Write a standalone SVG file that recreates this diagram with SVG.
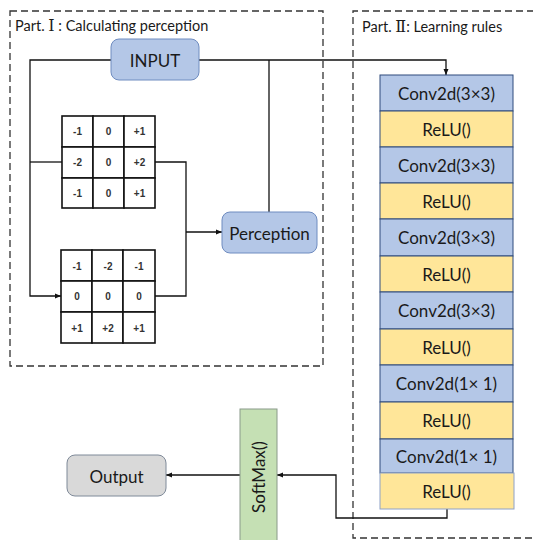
<svg xmlns="http://www.w3.org/2000/svg" width="533" height="540" viewBox="0 0 533 540">
<style>
.dash{fill:none;stroke:#333;stroke-width:1.3;stroke-dasharray:7,4}
.t{font-family:Lato,"Open Sans",sans-serif;fill:#1a1a1a}
.title{font-size:14.5px}
.rn{font-family:"DejaVu Serif","Liberation Serif",serif;font-size:16px}
.lbl{font-size:17px;text-anchor:middle;dominant-baseline:central}
.blue{fill:#b4c7e7;stroke:#6f8cc0;stroke-width:1}
.conv{fill:#b4c7e7;stroke:#2f4b7c;stroke-width:1}
.relu{fill:#ffe699;stroke:#2f4b7c;stroke-width:1}
.cell{fill:#fff;stroke:#111;stroke-width:1.6}
.num{font-family:"Liberation Sans",Arial,sans-serif;font-size:10px;font-weight:bold;fill:#333;text-anchor:middle;dominant-baseline:central}
.ln{fill:none;stroke:#111;stroke-width:1.3}
</style>
<defs>
<marker id="ah" markerWidth="6" markerHeight="6" refX="6" refY="3" orient="auto" markerUnits="userSpaceOnUse"><path d="M0,0.5 L6,3 L0,5.5 Z" fill="#111"/></marker>
</defs>
<rect x="0" y="0" width="533" height="540" fill="#fff"/>

<g id="part1">
<rect class="dash" x="10" y="11" width="313" height="355"/>
<text class="t title" x="15" y="31">Part. <tspan class="rn">Ⅰ</tspan> : Calculating perception</text>
</g>
<g id="part2">
<path class="dash" d="M545,11 H353 V538 H545"/>
<text class="t title" x="362" y="32">Part. <tspan class="rn">Ⅱ</tspan>: Learning rules</text>
</g>

<g id="connectors">
<path class="ln" d="M111,60 H30 V296 H61" marker-end="url(#ah)"/>
<path class="ln" d="M30,162 H62"/>
<path class="ln" d="M199,60 H446 V75" marker-end="url(#ah)"/>
<path class="ln" d="M269,60 V212"/>
<path class="ln" d="M155,162 H186 V296 H155"/>
<path class="ln" d="M186,232 H222" marker-end="url(#ah)"/>
<path class="ln" d="M447,509 V518 H336 V475 H277" marker-end="url(#ah)"/>
<path class="ln" d="M240,475 H166" marker-end="url(#ah)"/>
</g>

<g id="input">
<rect class="blue" x="111" y="39" width="88" height="41" rx="8"/>
<text class="t lbl" x="155" y="60">INPUT</text>
</g>

<g id="kernel-x">
<rect class="cell" x="62" y="116" width="31" height="31"/>
<rect class="cell" x="93" y="116" width="31" height="31"/>
<rect class="cell" x="124" y="116" width="31" height="31"/>
<rect class="cell" x="62" y="147" width="31" height="31"/>
<rect class="cell" x="93" y="147" width="31" height="31"/>
<rect class="cell" x="124" y="147" width="31" height="31"/>
<rect class="cell" x="62" y="178" width="31" height="30"/>
<rect class="cell" x="93" y="178" width="31" height="30"/>
<rect class="cell" x="124" y="178" width="31" height="30"/>
<text class="num" x="77.5" y="131.5">-1</text><text class="num" x="108.5" y="131.5">0</text><text class="num" x="139.5" y="131.5">+1</text>
<text class="num" x="77.5" y="162.5">-2</text><text class="num" x="108.5" y="162.5">0</text><text class="num" x="139.5" y="162.5">+2</text>
<text class="num" x="77.5" y="193">-1</text><text class="num" x="108.5" y="193">0</text><text class="num" x="139.5" y="193">+1</text>
</g>

<g id="kernel-y">
<rect class="cell" x="61" y="250" width="31" height="31"/>
<rect class="cell" x="92" y="250" width="31" height="31"/>
<rect class="cell" x="123" y="250" width="32" height="31"/>
<rect class="cell" x="61" y="281" width="31" height="31"/>
<rect class="cell" x="92" y="281" width="31" height="31"/>
<rect class="cell" x="123" y="281" width="32" height="31"/>
<rect class="cell" x="61" y="312" width="31" height="31"/>
<rect class="cell" x="92" y="312" width="31" height="31"/>
<rect class="cell" x="123" y="312" width="32" height="31"/>
<text class="num" x="77" y="266">-1</text><text class="num" x="108" y="266">-2</text><text class="num" x="139" y="266">-1</text>
<text class="num" x="77" y="296.5">0</text><text class="num" x="108" y="296.5">0</text><text class="num" x="139" y="296.5">0</text>
<text class="num" x="77" y="328">+1</text><text class="num" x="108" y="328">+2</text><text class="num" x="139" y="328">+1</text>
</g>

<g id="perception">
<rect class="blue" x="222" y="212" width="95" height="41" rx="8"/>
<text class="t lbl" x="269.5" y="233">Perception</text>
</g>

<g id="network">
<rect class="conv" x="380" y="75" width="133" height="36"/>
<text class="t lbl" x="446.5" y="93">Conv2d(3×3)</text>
<rect class="relu" x="380" y="111" width="133" height="36"/>
<text class="t lbl" x="446.5" y="129">ReLU()</text>
<rect class="conv" x="380" y="147" width="133" height="36"/>
<text class="t lbl" x="446.5" y="165">Conv2d(3×3)</text>
<rect class="relu" x="380" y="183" width="133" height="36"/>
<text class="t lbl" x="446.5" y="201">ReLU()</text>
<rect class="conv" x="380" y="219" width="133" height="37"/>
<text class="t lbl" x="446.5" y="237.5">Conv2d(3×3)</text>
<rect class="relu" x="380" y="256" width="133" height="36"/>
<text class="t lbl" x="446.5" y="274">ReLU()</text>
<rect class="conv" x="380" y="292" width="133" height="37"/>
<text class="t lbl" x="446.5" y="310.5">Conv2d(3×3)</text>
<rect class="relu" x="380" y="329" width="133" height="36"/>
<text class="t lbl" x="446.5" y="347">ReLU()</text>
<rect class="conv" x="380" y="365" width="133" height="37"/>
<text class="t lbl" x="446.5" y="383.5">Conv2d(1× 1)</text>
<rect class="relu" x="380" y="402" width="133" height="37"/>
<text class="t lbl" x="446.5" y="420.5">ReLU()</text>
<rect class="conv" x="380" y="439" width="133" height="34"/>
<text class="t lbl" x="446.5" y="456">Conv2d(1× 1)</text>
<rect class="relu" x="380" y="473" width="134" height="36" style="stroke:#8ea2c8"/>
<text class="t lbl" x="446.5" y="491">ReLU()</text>
</g>

<g id="softmax">
<rect x="240" y="409" width="37" height="140" fill="#c5e0b4" stroke="#8a9a8a" stroke-width="1"/>
<text class="t lbl" x="258.5" y="477" transform="rotate(-90 258.5 477)">SoftMax()</text>
</g>

<g id="output">
<rect x="67" y="455" width="99" height="41" rx="8" fill="#d9d9d9" stroke="#7f8a99" stroke-width="1"/>
<text class="t lbl" x="116.5" y="476">Output</text>
</g>
</svg>
